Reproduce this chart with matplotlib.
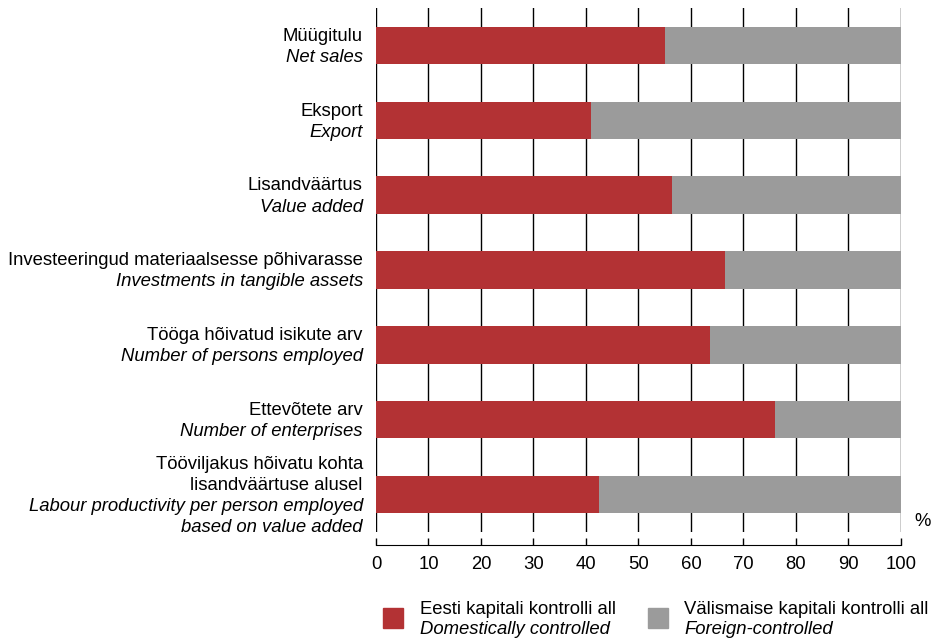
import matplotlib.pyplot as plt
import matplotlib.transforms as mtransforms

plt.rcParams['font.family'] = ['Liberation Sans', 'DejaVu Sans']

# category labels: Estonian (normal) and English (italic) lines
labels_et = [
    ["Müügitulu"],
    ["Eksport"],
    ["Lisandväärtus"],
    ["Investeeringud materiaalsesse põhivarasse"],
    ["Tööga hõivatud isikute arv"],
    ["Ettevõtete arv"],
    ["Tööviljakus hõivatu kohta", "lisandväärtuse alusel"],
]
labels_en = [
    ["Net sales"],
    ["Export"],
    ["Value added"],
    ["Investments in tangible assets"],
    ["Number of persons employed"],
    ["Number of enterprises"],
    ["Labour productivity per person employed", "based on value added"],
]

# share of domestically controlled enterprises, %
domestic = [55.0, 41.0, 56.4, 66.5, 63.6, 76.0, 42.5]
foreign = [100 - d for d in domestic]

ticks = [0, 10, 20, 30, 40, 50, 60, 70, 80, 90, 100]

red = '#b33234'
grey = '#9b9b9b'
fs = 13.3

fig = plt.figure(figsize=(9.33, 6.4), dpi=100)
ax = fig.add_axes([0.403, 0.16875, 0.5627, 0.8188])

ypos = list(range(len(domestic)))
ax.barh(ypos, domestic, height=0.5, color=red, zorder=3)
ax.barh(ypos, foreign, left=domestic, height=0.5, color=grey, zorder=3)

ax.set_xlim(0, 100)
ax.set_ylim(len(domestic) - 0.5, -0.5)
ax.set_xticks(ticks)
ax.set_xticklabels([str(t) for t in ticks])
ax.set_yticks([])
ax.grid(axis='x', color='black', linewidth=1, zorder=0)

for s in ['top', 'right', 'left']:
    ax.spines[s].set_visible(False)
ax.spines['bottom'].set_position(('outward', 9))
ax.tick_params(axis='x', direction='in', length=5, width=1, pad=8, labelsize=fs)

# multi-line labels with mixed styles
trans = mtransforms.blended_transform_factory(ax.transAxes, ax.transData)
line_h = 15.2  # points
for i, (et, en) in enumerate(zip(labels_et, labels_en)):
    lines = [(t, 'normal') for t in et] + [(t, 'italic') for t in en]
    n = len(lines)
    for k, (t, style) in enumerate(lines):
        off = ((n - 1) / 2 - k) * line_h - 1
        ax.annotate(t, xy=(0, i), xycoords=trans, xytext=(-9.5, off),
                    textcoords='offset points', ha='right', va='center',
                    fontsize=fs, fontstyle=style)

fig.text(0.998, 0.185, '%', fontsize=fs, ha='right', va='center')

# legend
fig.patches.append(plt.Rectangle((383 / 933, 1 - 628 / 640), 20 / 933, 20 / 640,
                                 transform=fig.transFigure, color=red))
fig.patches.append(plt.Rectangle((648 / 933, 1 - 628 / 640), 20 / 933, 20 / 640,
                                 transform=fig.transFigure, color=grey))
fig.text(420 / 933, 1 - 609 / 640, 'Eesti kapitali kontrolli all', fontsize=fs, va='center')
fig.text(420 / 933, 1 - 630 / 640, 'Domestically controlled', fontsize=fs, va='center',
         fontstyle='italic')
fig.text(684 / 933, 1 - 609 / 640, 'Välismaise kapitali kontrolli all', fontsize=fs, va='center')
fig.text(684 / 933, 1 - 630 / 640, 'Foreign-controlled', fontsize=fs, va='center',
         fontstyle='italic')

fig.savefig('out.png', dpi=100)
